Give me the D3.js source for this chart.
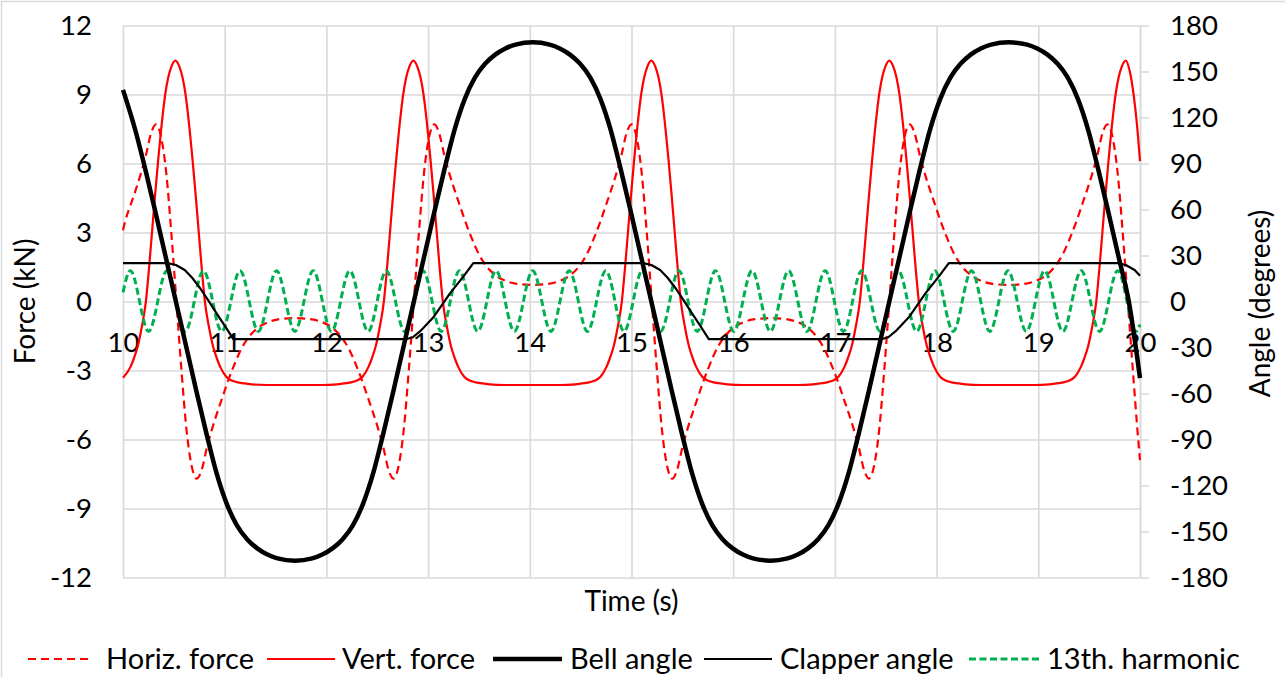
<!DOCTYPE html>
<html lang="en">
<head>
<meta charset="utf-8">
<title>Bell forces and angles</title>
<script src="https://d3js.org/d3.v7.min.js"></script>
<style>
  body { margin: 0; background: #fff; }
  text { font-family: Lato, "Open Sans", sans-serif; fill: #000; }
</style>
</head>
<body>
<script>
var w = 1285, h = 677;
var plot = {left: 123, right: 1140, top: 25.5, bottom: 577.5};

// tick values
var timeTicks = [10, 11, 12, 13, 14, 15, 16, 17, 18, 19, 20];
var forceTicks = [-12, -9, -6, -3, 0, 3, 6, 9, 12];
var angleTicks = [-180, -150, -120, -90, -60, -30, 0, 30, 60, 90, 120, 150, 180];

// [time s, force kN]
var horizForce = [[10.0,3.1],[10.025,3.55],[10.075,4.2],[10.125,4.85],[10.175,5.55],[10.225,6.35],[10.275,7.3],[10.325,7.7],[10.375,7.15],[10.425,5.6],[10.475,3.0],[10.525,0],
  [10.575,-3.0],[10.625,-5.6],[10.675,-7.15],[10.725,-7.7],[10.775,-7.3],[10.825,-6.35],[10.875,-5.55],[10.925,-4.85],[10.975,-4.2],[11.025,-3.55],[11.085,-2.85],[11.165,-2.05],[11.245,-1.5],[11.325,-1.15],[11.425,-0.9],[11.525,-0.78],[11.69,-0.72],
  [11.86,-0.78],[11.96,-0.9],[12.06,-1.15],[12.14,-1.5],[12.22,-2.05],[12.3,-2.85],[12.36,-3.55],[12.41,-4.2],[12.46,-4.85],[12.51,-5.55],[12.56,-6.35],[12.61,-7.3],[12.66,-7.7],[12.71,-7.15],[12.76,-5.6],[12.81,-3.0],[12.86,0],
  [12.91,3.0],[12.96,5.6],[13.01,7.15],[13.06,7.7],[13.11,7.3],[13.16,6.35],[13.21,5.55],[13.26,4.85],[13.31,4.2],[13.36,3.55],[13.42,2.85],[13.5,2.05],[13.58,1.5],[13.66,1.15],[13.76,0.9],[13.86,0.78],[14.03,0.72],
  [14.2,0.78],[14.3,0.9],[14.4,1.15],[14.48,1.5],[14.56,2.05],[14.64,2.85],[14.7,3.55],[14.75,4.2],[14.8,4.85],[14.85,5.55],[14.9,6.35],[14.95,7.3],[15.0,7.7],[15.05,7.15],[15.1,5.6],[15.15,3.0],[15.2,0],
  [15.25,-3.0],[15.3,-5.6],[15.35,-7.15],[15.4,-7.7],[15.45,-7.3],[15.5,-6.35],[15.55,-5.55],[15.6,-4.85],[15.65,-4.2],[15.7,-3.55],[15.76,-2.85],[15.84,-2.05],[15.92,-1.5],[16.0,-1.15],[16.1,-0.9],[16.2,-0.78],[16.37,-0.72],
  [16.535,-0.78],[16.635,-0.9],[16.735,-1.15],[16.815,-1.5],[16.895,-2.05],[16.975,-2.85],[17.035,-3.55],[17.085,-4.2],[17.135,-4.85],[17.185,-5.55],[17.235,-6.35],[17.285,-7.3],[17.335,-7.7],[17.385,-7.15],[17.435,-5.6],[17.485,-3.0],[17.535,0],
  [17.585,3.0],[17.635,5.6],[17.685,7.15],[17.735,7.7],[17.785,7.3],[17.835,6.35],[17.885,5.55],[17.935,4.85],[17.985,4.2],[18.035,3.55],[18.095,2.85],[18.175,2.05],[18.255,1.5],[18.335,1.15],[18.435,0.9],[18.535,0.78],[18.705,0.72],
  [18.88,0.78],[18.98,0.9],[19.08,1.15],[19.16,1.5],[19.24,2.05],[19.32,2.85],[19.38,3.55],[19.43,4.2],[19.48,4.85],[19.53,5.55],[19.58,6.35],[19.63,7.3],[19.68,7.7],[19.73,7.15],[19.78,5.6],[19.83,3.0],[19.88,0],
  [19.93,-3.0],[19.975,-5.6],[20.0,-6.9]];

var vertForce = [[10.0,-3.31],[10.075,-2.83],[10.105,-2.5],[10.145,-1.95],[10.185,-1.1],[10.225,0],[10.255,1.4],[10.285,3.0],[10.315,4.6],[10.345,6.1],[10.385,7.9],[10.415,9.0],[10.445,9.75],[10.475,10.2],[10.515,10.47],
  [10.555,10.2],[10.585,9.75],[10.615,9.0],[10.645,7.9],[10.685,6.1],[10.715,4.6],[10.745,3.0],[10.775,1.4],[10.805,0],[10.845,-1.1],[10.885,-1.95],[10.925,-2.5],[10.955,-2.83],[11.015,-3.27],[11.075,-3.45],[11.145,-3.53],[11.265,-3.6],[11.415,-3.63],[11.685,-3.63],
  [11.955,-3.63],[12.105,-3.6],[12.225,-3.53],[12.295,-3.45],[12.355,-3.27],[12.415,-2.83],[12.445,-2.5],[12.485,-1.95],[12.525,-1.1],[12.565,0],[12.595,1.4],[12.625,3.0],[12.655,4.6],[12.685,6.1],[12.725,7.9],[12.755,9.0],[12.785,9.75],[12.815,10.2],[12.855,10.47],
  [12.895,10.2],[12.925,9.75],[12.955,9.0],[12.985,7.9],[13.025,6.1],[13.055,4.6],[13.085,3.0],[13.115,1.4],[13.145,0],[13.185,-1.1],[13.225,-1.95],[13.265,-2.5],[13.295,-2.83],[13.355,-3.27],[13.415,-3.45],[13.485,-3.53],[13.605,-3.6],[13.755,-3.63],[14.025,-3.63],
  [14.295,-3.63],[14.445,-3.6],[14.565,-3.53],[14.635,-3.45],[14.695,-3.27],[14.755,-2.83],[14.785,-2.5],[14.825,-1.95],[14.865,-1.1],[14.905,0],[14.935,1.4],[14.965,3.0],[14.995,4.6],[15.025,6.1],[15.065,7.9],[15.095,9.0],[15.125,9.75],[15.155,10.2],[15.195,10.47],
  [15.235,10.2],[15.265,9.75],[15.295,9.0],[15.325,7.9],[15.365,6.1],[15.395,4.6],[15.425,3.0],[15.455,1.4],[15.485,0],[15.525,-1.1],[15.565,-1.95],[15.605,-2.5],[15.635,-2.83],[15.695,-3.27],[15.755,-3.45],[15.825,-3.53],[15.945,-3.6],[16.095,-3.63],[16.365,-3.63],
  [16.635,-3.63],[16.785,-3.6],[16.905,-3.53],[16.975,-3.45],[17.035,-3.27],[17.095,-2.83],[17.125,-2.5],[17.165,-1.95],[17.205,-1.1],[17.245,0],[17.275,1.4],[17.305,3.0],[17.335,4.6],[17.365,6.1],[17.405,7.9],[17.435,9.0],[17.465,9.75],[17.495,10.2],[17.535,10.47],
  [17.575,10.2],[17.605,9.75],[17.635,9.0],[17.665,7.9],[17.705,6.1],[17.735,4.6],[17.765,3.0],[17.795,1.4],[17.825,0],[17.865,-1.1],[17.905,-1.95],[17.945,-2.5],[17.975,-2.83],[18.035,-3.27],[18.095,-3.45],[18.165,-3.53],[18.285,-3.6],[18.435,-3.63],[18.7,-3.63],
  [18.96,-3.63],[19.11,-3.6],[19.23,-3.53],[19.3,-3.45],[19.36,-3.27],[19.42,-2.83],[19.45,-2.5],[19.49,-1.95],[19.53,-1.1],[19.57,0],[19.6,1.4],[19.63,3.0],[19.66,4.6],[19.69,6.1],[19.73,7.9],[19.76,9.0],[19.79,9.75],[19.82,10.2],[19.86,10.47],
  [19.9,10.0],[19.94,8.9],[19.97,7.7],[20.0,6.1]];

var harmonic = [[10.0,0.4],[10.072,1.34],[10.252,-1.3],[10.432,1.34],[10.612,-1.3],[10.791,1.34],[10.971,-1.3],[11.151,1.34],[11.331,-1.3],[11.51,1.34],[11.69,-1.3],
  [11.87,1.34],[12.05,-1.3],[12.23,1.34],[12.41,-1.3],[12.589,1.34],[12.769,-1.3],[12.949,1.34],[13.129,-1.3],[13.308,1.34],[13.488,-1.3],[13.668,1.34],[13.848,-1.3],
  [14.028,1.34],[14.208,-1.3],[14.387,1.34],[14.567,-1.3],[14.747,1.34],[14.927,-1.3],[15.106,1.34],[15.286,-1.3],[15.466,1.34],[15.646,-1.3],[15.826,1.34],[16.006,-1.3],
  [16.185,1.34],[16.365,-1.3],[16.545,1.34],[16.725,-1.3],[16.904,1.34],[17.084,-1.3],[17.264,1.34],[17.444,-1.3],[17.624,1.34],[17.804,-1.3],[17.983,1.34],[18.163,-1.3],
  [18.343,1.34],[18.523,-1.3],[18.702,1.34],[18.882,-1.3],[19.062,1.34],[19.242,-1.3],[19.422,1.34],[19.602,-1.3],[19.781,1.34],[19.961,-1.3],[20.0,-1.0]];

// [time s, angle degrees]
var bellAngle = [[10.0,138],[10.12,112],[10.22,86],[10.32,58],[10.42,29],[10.52,0],[10.62,-29],[10.72,-58],[10.82,-86],[10.92,-112],[11.02,-132],[11.12,-146],[11.22,-155],[11.32,-161],[11.42,-165],[11.52,-167.5],[11.69,-169],
  [11.86,-167.5],[11.96,-165],[12.06,-161],[12.16,-155],[12.26,-146],[12.36,-132],[12.46,-112],[12.56,-86],[12.66,-58],[12.76,-29],[12.86,0],
  [12.96,29],[13.06,58],[13.16,86],[13.26,112],[13.36,132],[13.46,146],[13.56,155],[13.66,161],[13.76,165],[13.86,167.5],[14.03,169],
  [14.195,167.5],[14.295,165],[14.395,161],[14.495,155],[14.595,146],[14.695,132],[14.795,112],[14.895,86],[14.995,58],[15.095,29],[15.195,0],
  [15.295,-29],[15.395,-58],[15.495,-86],[15.595,-112],[15.695,-132],[15.795,-146],[15.895,-155],[15.995,-161],[16.095,-165],[16.195,-167.5],[16.365,-169],
  [16.535,-167.5],[16.635,-165],[16.735,-161],[16.835,-155],[16.935,-146],[17.035,-132],[17.135,-112],[17.235,-86],[17.335,-58],[17.435,-29],[17.535,0],
  [17.635,29],[17.735,58],[17.835,86],[17.935,112],[18.035,132],[18.135,146],[18.235,155],[18.335,161],[18.435,165],[18.535,167.5],[18.71,169],
  [18.89,167.5],[18.99,165],[19.09,161],[19.19,155],[19.29,146],[19.39,132],[19.49,112],[19.59,86],[19.69,58],[19.79,29],[19.89,0],[20.0,-50]];

var clapperAngle = [[10.0,25],[10.44,25],[10.52,23.8],[10.607,20.5],[10.68,15.5],[10.757,8.8],[10.84,0.5],[10.92,-7.7],[11.0,-15.7],[11.085,-24.5],
  [12.79,-24.5],[12.85,-23.3],[12.92,-19.5],[13.05,-10.5],[13.215,5.3],[13.346,16.2],[13.445,25],
  [15.115,25],[15.195,23.8],[15.282,20.5],[15.355,15.5],[15.432,8.8],[15.515,0.5],[15.595,-7.7],[15.675,-15.7],[15.76,-24.5],
  [17.465,-24.5],[17.525,-23.3],[17.595,-19.5],[17.725,-10.5],[17.89,5.3],[18.021,16.2],[18.12,25],
  [19.78,25],[19.86,23.8],[19.947,20.5],[20.0,16.8]];

var series = [
  {name: "Horiz. force", data: horizForce, axis: "left", color: "#ff0000", width: 2.2, dash: "8,5", lx: [28, 92], tx: 106},
  {name: "Vert. force", data: vertForce, axis: "left", color: "#ff0000", width: 2.2, dash: null, lx: [267, 335], tx: 342},
  {name: "Bell angle", data: bellAngle, axis: "right", color: "#000000", width: 4.5, dash: null, lx: [493, 562], tx: 570},
  {name: "Clapper angle", data: clapperAngle, axis: "right", color: "#000000", width: 2.2, dash: null, lx: [704, 772], tx: 780},
  {name: "13th. harmonic", data: harmonic, axis: "left", color: "#00b050", width: 3, dash: "7,3.5", lx: [969, 1039], tx: 1047}
];

var x = d3.scaleLinear().domain([10, 20]).range([plot.left, plot.right]);
var yL = d3.scaleLinear().domain([-12, 12]).range([plot.bottom, plot.top]);
var yR = d3.scaleLinear().domain([-180, 180]).range([plot.bottom, plot.top]);

var svg = d3.select("body").append("svg")
  .attr("width", w)
  .attr("height", h);

svg.append("rect").attr("width", w).attr("height", h).attr("fill", "#fff");

// outer chart frame, only its top and left edges are in the picture
svg.append("path")
  .attr("d", "M1.5," + h + "V1.5H" + w)
  .attr("fill", "none")
  .attr("stroke", "#d9d9d9")
  .attr("stroke-width", 1.5);

// gridlines
var gridH = svg.append("g")
  .attr("transform", "translate(" + plot.left + ",0)")
  .call(d3.axisLeft(yL).tickValues(forceTicks).tickSize(-(plot.right - plot.left)).tickFormat(""));
var gridV = svg.append("g")
  .attr("transform", "translate(0," + plot.top + ")")
  .call(d3.axisBottom(x).tickValues(timeTicks).tickSize(plot.bottom - plot.top).tickFormat(""));
[gridH, gridV].forEach(function(g) {
  g.select(".domain").remove();
  g.selectAll("line").attr("stroke", "#d9d9d9").attr("stroke-width", 1.6);
});

// right axis line with outward ticks
var rightAxis = svg.append("g")
  .attr("transform", "translate(" + plot.right + ",0)")
  .call(d3.axisRight(yR).tickValues(angleTicks).tickSize(9).tickSizeOuter(0).tickPadding(21)
    .tickFormat(function(d) { return String(d); }));
rightAxis.select(".domain").attr("stroke", "#d9d9d9").attr("stroke-width", 1.6);
rightAxis.selectAll("line").attr("stroke", "#d9d9d9").attr("stroke-width", 1.6);
rightAxis.selectAll("text").attr("font-size", 27.5).style("font-family", "Lato");

var leftAxis = svg.append("g")
  .attr("transform", "translate(" + plot.left + ",0)")
  .call(d3.axisLeft(yL).tickValues(forceTicks).tickSize(0).tickPadding(31)
    .tickFormat(function(d) { return String(d); }));
leftAxis.select(".domain").remove();
leftAxis.selectAll("text").attr("font-size", 27.5).style("font-family", "Lato");

var bottomAxis = svg.append("g")
  .attr("transform", "translate(0," + yL(0) + ")")
  .call(d3.axisBottom(x).tickValues(timeTicks).tickSize(0).tickPadding(31)
    .tickFormat(function(d) { return String(d); }));
bottomAxis.select(".domain").remove();
bottomAxis.selectAll("text").attr("font-size", 27.5).style("font-family", "Lato");

// series lines: primary axis first, then secondary
var drawOrder = [0, 1, 4, 2, 3];
drawOrder.forEach(function(i) {
  var s = series[i];
  var yScale = s.axis === "left" ? yL : yR;
  var line = d3.line()
    .x(function(d) { return x(d[0]); })
    .y(function(d) { return yScale(d[1]); })
    .curve(s.name === "Clapper angle" ? d3.curveLinear : d3.curveMonotoneX);
  svg.append("path")
    .datum(s.data)
    .attr("fill", "none")
    .attr("stroke", s.color)
    .attr("stroke-width", s.width)
    .attr("stroke-dasharray", s.dash)
    .attr("stroke-linejoin", "round")
    .attr("d", line);
});

// axis titles
svg.append("text")
  .attr("transform", "translate(25," + yL(0) + ") rotate(-90)")
  .attr("text-anchor", "middle")
  .attr("dy", "0.35em")
  .attr("font-size", 28)
  .text("Force (kN)");

svg.append("text")
  .attr("transform", "translate(1260," + (yL(0) + 2) + ") rotate(-90)")
  .attr("text-anchor", "middle")
  .attr("dy", "0.35em")
  .attr("font-size", 28)
  .text("Angle (degrees)");

svg.append("text")
  .attr("x", (plot.left + plot.right) / 2)
  .attr("y", 601)
  .attr("text-anchor", "middle")
  .attr("dy", "0.35em")
  .attr("font-size", 28)
  .text("Time (s)");

// legend
var legendY = 659;
var legend = svg.append("g");
series.forEach(function(s) {
  legend.append("line")
    .attr("x1", s.lx[0]).attr("x2", s.lx[1])
    .attr("y1", legendY).attr("y2", legendY)
    .attr("stroke", s.color)
    .attr("stroke-width", s.width)
    .attr("stroke-dasharray", s.dash);
  legend.append("text")
    .attr("x", s.tx)
    .attr("y", legendY)
    .attr("dy", "0.35em")
    .attr("font-size", 29)
    .text(s.name);
});
</script>
</body>
</html>
